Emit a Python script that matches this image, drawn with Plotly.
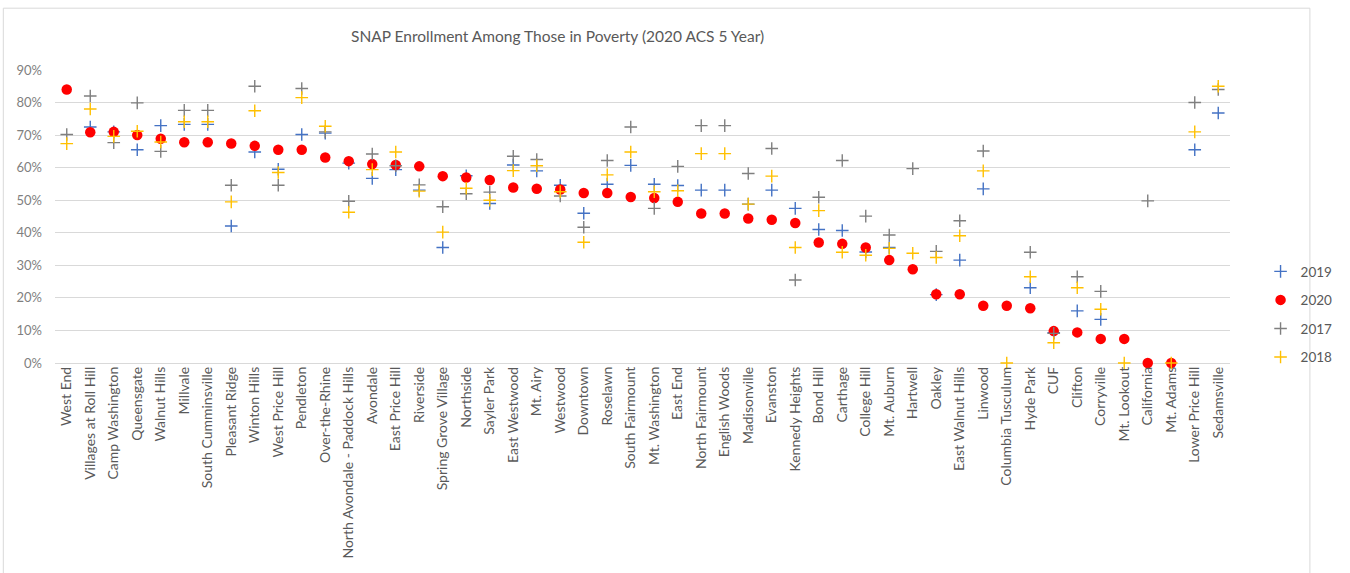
import plotly.graph_objects as go

neighborhoods = [
    "West End", "Villages at Roll Hill", "Camp Washington", "Queensgate", "Walnut Hills",
    "Millvale", "South Cumminsville", "Pleasant Ridge", "Winton Hills", "West Price Hill",
    "Pendleton", "Over-the-Rhine", "North Avondale - Paddock Hills", "Avondale", "East Price Hill",
    "Riverside", "Spring Grove Village", "Northside", "Sayler Park", "East Westwood",
    "Mt. Airy", "Westwood", "Downtown", "Roselawn", "South Fairmount",
    "Mt. Washington", "East End", "North Fairmount", "English Woods", "Madisonville",
    "Evanston", "Kennedy Heights", "Bond Hill", "Carthage", "College Hill",
    "Mt. Auburn", "Hartwell", "Oakley", "East Walnut Hills", "Linwood",
    "Columbia Tusculum", "Hyde Park", "CUF", "Clifton", "Corryville",
    "Mt. Lookout", "California", "Mt. Adams", "Lower Price Hill", "Sedamsville",
]

# Share of residents in poverty enrolled in SNAP, percent
snap_2019 = [
    None, 72.5, 71.0, 65.5, 72.9, 73.3, 73.3, 42.1, 64.8, 59.5,
    70.2, 70.6, 61.4, 56.7, 59.4, 53.1, 35.5, 57.5, 49.0, 60.8,
    59.0, 54.6, 46.0, 54.9, 60.7, 54.9, 54.5, 53.1, 53.1, 48.8,
    53.1, 47.5, 41.0, 40.7, 34.1, 35.5, None, 21.0, 31.6, 53.5,
    None, 23.1, 9.3, 16.0, 13.4, None, None, None, 65.5, 76.8,
]
snap_2020 = [
    84.0, 70.9, 71.0, 70.0, 68.9, 67.8, 67.8, 67.4, 66.7, 65.5,
    65.5, 63.1, 62.0, 61.1, 60.8, 60.4, 57.4, 57.0, 56.2, 53.9,
    53.5, 53.3, 52.2, 52.2, 51.0, 50.7, 49.5, 45.9, 45.9, 44.4,
    44.0, 43.0, 37.0, 36.6, 35.5, 31.6, 28.8, 21.1, 21.1, 17.6,
    17.6, 16.8, 9.8, 9.4, 7.4, 7.4, 0.0, 0.0, None, None,
]
snap_2017 = [
    70.2, 82.0, 67.7, 79.9, 65.0, 77.6, 77.6, 54.6, 85.0, 54.6,
    84.3, 71.0, 49.7, 64.2, 60.6, 54.7, 48.0, 52.0, 52.5, 63.5,
    62.5, 51.3, 41.7, 62.2, 72.5, 47.5, 60.4, 72.9, 72.9, 58.2,
    65.9, 25.5, 50.9, 62.2, 45.1, 39.3, 59.7, 34.3, 43.7, 65.1,
    None, 34.0, 9.1, 26.5, 22.0, None, 49.8, None, 80.0, 84.0,
]
snap_2018 = [
    67.4, 78.0, 69.6, 71.2, 67.9, 74.1, 74.1, 49.5, 77.5, 58.5,
    81.5, 72.7, 46.3, 59.4, 64.8, 52.8, 40.2, 53.7, 50.0, 59.1,
    60.6, 52.6, 37.1, 57.8, 64.8, 52.6, 52.9, 64.3, 64.3, 48.8,
    57.4, 35.5, 46.8, 34.0, 33.1, 35.2, 33.7, 32.4, 39.1, 59.0,
    0.0, 26.5, 6.2, 23.1, 16.5, 0.0, None, 0.0, 71.0, 85.0,
]

y_ticks = [0, 10, 20, 30, 40, 50, 60, 70, 80, 90]
y_tick_labels = [f"{t}%" for t in y_ticks]

series = [
    ("2019", snap_2019, "#4472C4", "cross-thin"),
    ("2020", snap_2020, "#FF0000", "circle"),
    ("2017", snap_2017, "#7F7F7F", "cross-thin"),
    ("2018", snap_2018, "#FFC000", "cross-thin"),
]

FONT = "Lato"
TEXT_GREY = "#595959"

fig = go.Figure()
for name, values, color, symbol in series:
    if symbol == "circle":
        marker = dict(symbol="circle", size=10.5, color=color, line=dict(width=0))
    else:
        marker = dict(symbol=symbol, size=9, color=color, line=dict(width=1.4, color=color))
    fig.add_trace(go.Scatter(
        x=neighborhoods, y=values, mode="markers", name=name,
        legendgroup=name, marker=marker, cliponaxis=False,
    ))

fig.update_layout(
    width=1350, height=573,
    margin=dict(l=55, r=87, t=70, b=210),
    paper_bgcolor="white", plot_bgcolor="white",
    font=dict(family=FONT, color=TEXT_GREY),
    title=dict(
        text="SNAP Enrollment Among Those in Poverty (2020 ACS 5 Year)",
        x=0.413, xref="container", xanchor="center",
        y=0.937, yref="container", yanchor="middle",
        font=dict(family=FONT, size=15.5, color=TEXT_GREY),
    ),
    legend=dict(
        x=1.026, y=0.365, xanchor="left", yanchor="top",
        font=dict(family=FONT, size=13.5, color=TEXT_GREY),
        tracegroupgap=8, itemwidth=30, bgcolor="rgba(0,0,0,0)",
    ),
    xaxis=dict(
        type="category", range=[-0.5, len(neighborhoods) - 0.5], automargin=False,
        tickangle=-90, showgrid=False,
        tickfont=dict(family=FONT, size=14, color=TEXT_GREY),
        showline=False, zeroline=False, ticks="",
    ),
    yaxis=dict(
        range=[0, 90], tickvals=y_ticks, ticktext=y_tick_labels, automargin=False,
        showgrid=True, gridcolor="#D9D9D9", gridwidth=1,
        zeroline=True, zerolinecolor="#D9D9D9", zerolinewidth=1,
        tickfont=dict(family=FONT, size=13, color="#7F7F7F"),
        ticklabelstandoff=12, showline=False, ticks="",
    ),
    shapes=[dict(
        type="rect", xref="paper", yref="paper",
        x0=-0.044, x1=1.068, y0=-0.75, y1=1.211,
        line=dict(color="#D9D9D9", width=1), fillcolor="rgba(0,0,0,0)", layer="below",
    )],
)

fig.write_html("out.html")
